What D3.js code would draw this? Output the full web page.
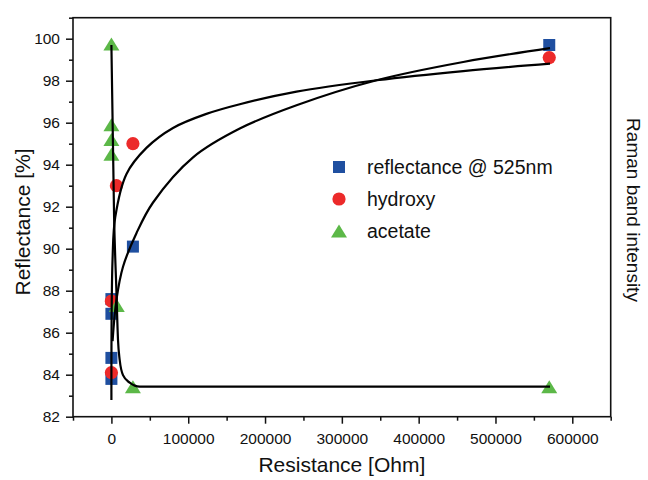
<html>
<head>
<style>
  body { margin: 0; background: #fff; }
  text { font-family: "Liberation Sans", Arial, sans-serif; fill: #111; }
</style>
</head>
<body>
<svg id="chart" width="648" height="480"></svg>
<script src="https://cdn.jsdelivr.net/npm/d3@7"></script>
<script>
// measured points
let reflX = [0, 0, 0, 0, 28000, 570000]
let reflY = [83.8, 84.8, 86.9, 87.6, 90.1, 99.7]
let hydX = [0, 0, 6500, 28000, 570000]
let hydY = [84.1, 87.5, 93.0, 95.0, 99.1]
let aceX = [0, 0, 0, 0, 7000, 28000, 570000]
let aceY = [99.75, 95.9, 95.2, 94.5, 87.3, 83.43, 83.43]

// fit curves
let reflFitX = [1500, 6500, 15100, 32600, 54200, 106300, 167100, 241000, 345200, 458000, 571000]
let reflFitY = [85.6, 87.55, 89.14, 90.74, 92.2, 94.35, 95.72, 96.83, 98.02, 98.89, 99.55]
let hydFitX = [0, 1500, 5000, 19500, 45600, 80200, 123700, 167100, 241000, 345200, 458000, 571000]
let hydFitY = [82.8, 89.5, 91.5, 93.55, 94.8, 95.75, 96.42, 96.88, 97.48, 98.02, 98.46, 98.81]
let aceFitX = [0, 3500, 6500, 8600, 10800, 15100, 23800, 36900, 571000]
let aceFitY = [99.7, 91.5, 88.0, 85.65, 84.70, 83.98, 83.62, 83.43, 83.43]

let xMajor = [0, 100000, 200000, 300000, 400000, 500000, 600000]
let xMinor = [-50000, 50000, 150000, 250000, 350000, 450000, 550000, 650000]
let yMajor = [82, 84, 86, 88, 90, 92, 94, 96, 98, 100]
let yMinor = [83, 85, 87, 89, 91, 93, 95, 97, 99, 101]

let legendNames = ["reflectance @ 525nm", "hydroxy", "acetate"]
let colors = ["#1f4fa0", "#ec2a2a", "#5cb848"]

let pLeft = 73, pRight = 610.7, pTop = 17.7, pBottom = 416.7
let svg = d3.select("#chart")

let x = d3.scaleLinear().domain([-50000, 650000]).range([pLeft, pRight])
let y = d3.scaleLinear().domain([82, 101]).range([pBottom, pTop])

// axes: major + minor ticks
let xAxis = svg.append("g").attr("transform", `translate(0,${pBottom})`)
  .call(d3.axisBottom(x).tickValues(xMajor).tickFormat(d3.format("d")).tickSize(7).tickSizeOuter(0))
xAxis.select(".domain").remove()
xAxis.selectAll("text").attr("font-size", 15.5).attr("dy", "1.1em")
  .style("font-family", "Liberation Sans, Arial, sans-serif")
let xAxisMin = svg.append("g").attr("transform", `translate(0,${pBottom})`)
  .call(d3.axisBottom(x).tickValues(xMinor).tickFormat("").tickSize(4).tickSizeOuter(0))
xAxisMin.select(".domain").remove()

let yAxis = svg.append("g").attr("transform", `translate(${pLeft},0)`)
  .call(d3.axisLeft(y).tickValues(yMajor).tickSize(7).tickSizeOuter(0))
yAxis.select(".domain").remove()
yAxis.selectAll("text").attr("font-size", 15.5).attr("x", -13)
  .style("font-family", "Liberation Sans, Arial, sans-serif")
let yAxisMin = svg.append("g").attr("transform", `translate(${pLeft},0)`)
  .call(d3.axisLeft(y).tickValues(yMinor).tickFormat("").tickSize(4).tickSizeOuter(0))
yAxisMin.select(".domain").remove()

svg.selectAll(".tick line").attr("stroke", "#111").attr("stroke-width", 1.5)

// frame
svg.append("rect")
  .attr("x", pLeft).attr("y", pTop)
  .attr("width", pRight - pLeft).attr("height", pBottom - pTop)
  .attr("fill", "none").attr("stroke", "#111").attr("stroke-width", 1.6)

// axis titles
svg.append("text").attr("x", (pLeft + pRight) / 2).attr("y", 472)
  .attr("text-anchor", "middle").attr("font-size", 21).text("Resistance [Ohm]")
svg.append("text").attr("transform", "translate(30,222) rotate(-90)")
  .attr("text-anchor", "middle").attr("font-size", 21).text("Reflectance [%]")
svg.append("text").attr("transform", "translate(627,210) rotate(90)")
  .attr("text-anchor", "middle").attr("font-size", 19).text("Raman band intensity")

// markers
let square = (g, cx, cy, c) => g.append("rect").attr("x", cx - 6).attr("y", cy - 6)
  .attr("width", 12).attr("height", 12).attr("fill", c)
let circle = (g, cx, cy, c) => g.append("circle").attr("cx", cx).attr("cy", cy)
  .attr("r", 6.6).attr("fill", c)
let triangle = (g, cx, cy, c) => g.append("path")
  .attr("d", `M${cx},${cy - 6.5}L${cx + 8},${cy + 6.5}L${cx - 8},${cy + 6.5}Z`).attr("fill", c)
let shapes = [square, circle, triangle]

let marks = svg.append("g")
reflX.forEach((d, i) => square(marks, x(d), y(reflY[i]), colors[0]))
hydX.forEach((d, i) => circle(marks, x(d), y(hydY[i]), colors[1]))
aceX.forEach((d, i) => triangle(marks, x(d), y(aceY[i]), colors[2]))

// fit lines
let smooth = d3.line().x(d => x(d[0])).y(d => y(d[1])).curve(d3.curveCatmullRom.alpha(0.5))
let mono = d3.line().x(d => x(d[0])).y(d => y(d[1])).curve(d3.curveMonotoneX)
let fits = [[reflFitX, reflFitY, smooth], [hydFitX, hydFitY, smooth], [aceFitX, aceFitY, mono]]
fits.forEach(f => {
  svg.append("path")
    .attr("d", f[2](f[0].map((v, i) => [v, f[1][i]])))
    .attr("fill", "none").attr("stroke", "#000").attr("stroke-width", 2.2)
})

// legend
let legend = svg.append("g")
legendNames.forEach((name, i) => {
  let ly = 167 + i * 32
  shapes[i](legend, 339, ly, colors[i])
  legend.append("text").attr("x", 367).attr("y", ly + 7)
    .attr("font-size", 19.5).text(name)
})
</script>
</body>
</html>
